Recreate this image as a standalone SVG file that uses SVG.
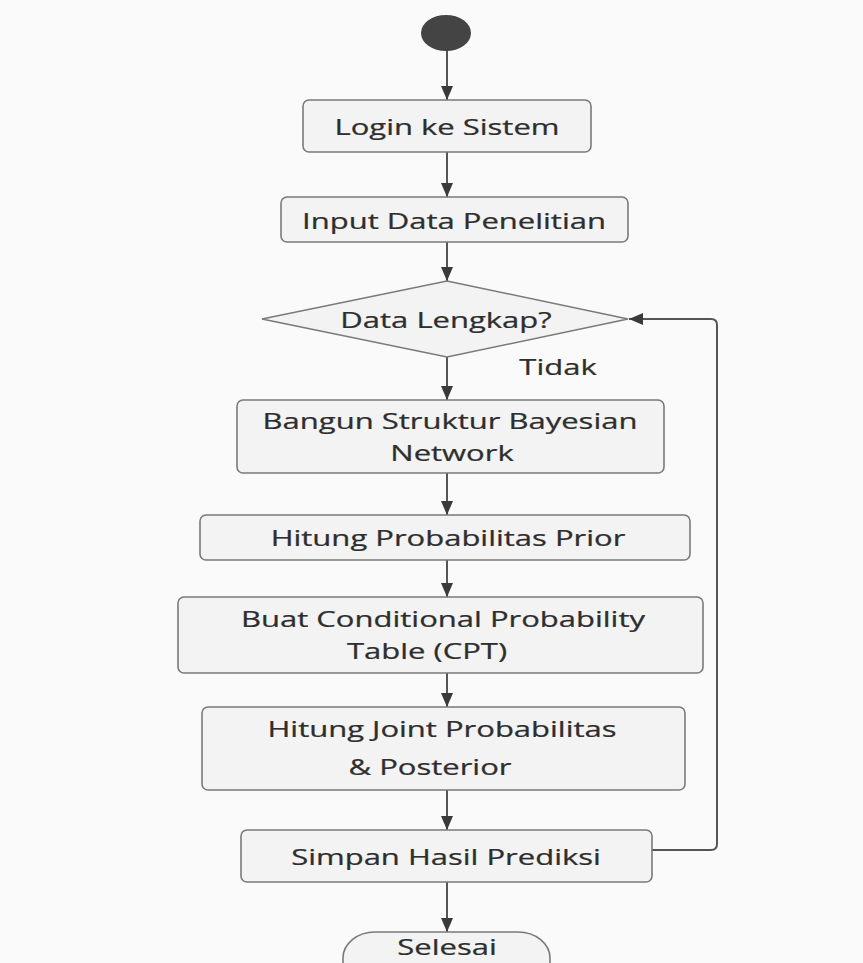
<svg xmlns="http://www.w3.org/2000/svg" width="863" height="963" viewBox="0 0 863 963">
  <defs>
    <style>
      .box { fill: #f3f3f3; stroke: #7a7a7a; stroke-width: 1.6; }
      .lbl { font-family: "Open Sans", "Liberation Sans", sans-serif; font-size: 31px; fill: #2e2e2e; stroke: #2e2e2e; stroke-width: 0.35; text-anchor: middle; }
      .edge { fill: none; stroke: #555555; stroke-width: 2; }
    </style>
    <marker id="arrow" viewBox="0 0 14 12" refX="14" refY="6" markerWidth="14" markerHeight="12" markerUnits="userSpaceOnUse" orient="auto">
      <path d="M0,0 L14,6 L0,12 Z" fill="#3a3a3a"/>
    </marker>
  </defs>

  <rect width="863" height="963" fill="#fbfafa"/>

  <!-- connectors -->
  <g id="connectors">
    <line class="edge" x1="447" y1="50" x2="447" y2="100" marker-end="url(#arrow)"/>
    <line class="edge" x1="447" y1="152" x2="447" y2="197" marker-end="url(#arrow)"/>
    <line class="edge" x1="447" y1="242" x2="447" y2="281" marker-end="url(#arrow)"/>
    <line class="edge" x1="447" y1="357" x2="447" y2="400" marker-end="url(#arrow)"/>
    <line class="edge" x1="447" y1="473" x2="447" y2="515" marker-end="url(#arrow)"/>
    <line class="edge" x1="447" y1="560" x2="447" y2="597" marker-end="url(#arrow)"/>
    <line class="edge" x1="447" y1="673" x2="447" y2="707" marker-end="url(#arrow)"/>
    <line class="edge" x1="447" y1="790" x2="447" y2="830" marker-end="url(#arrow)"/>
    <line class="edge" x1="447" y1="882" x2="447" y2="932" marker-end="url(#arrow)"/>
    <!-- loop back from save step to the decision -->
    <path class="edge" d="M652,850 H711 Q717,850 717,844 V325 Q717,319 711,319 H629" marker-end="url(#arrow)"/>
    <text class="lbl" transform="translate(558 375) scale(1 0.68)" font-size="35">Tidak</text>
  </g>

  <!-- start -->
  <g id="start">
    <ellipse cx="446" cy="33" rx="25" ry="18" fill="#444444"/>
  </g>

  <g id="login">
    <rect class="box" x="303" y="100" width="288" height="52" rx="6"/>
    <text class="lbl" transform="translate(447 135) scale(1 0.68)">Login ke Sistem</text>
  </g>

  <g id="input">
    <rect class="box" x="281" y="197" width="347" height="45" rx="6"/>
    <text class="lbl" transform="translate(454 229) scale(1 0.68)">Input Data Penelitian</text>
  </g>

  <g id="decision">
    <polygon class="box" points="447,281 628,319 447,357 262,319"/>
    <text class="lbl" transform="translate(446 328) scale(1 0.68)">Data Lengkap?</text>
  </g>

  <g id="bangun">
    <rect class="box" x="237" y="400" width="427" height="73" rx="6"/>
    <text class="lbl" transform="translate(450 429) scale(1 0.68)">Bangun Struktur Bayesian</text>
    <text class="lbl" transform="translate(452 461) scale(1 0.68)">Network</text>
  </g>

  <g id="prior">
    <rect class="box" x="200" y="515" width="490" height="45" rx="6"/>
    <text class="lbl" transform="translate(448 546) scale(1 0.68)">Hitung Probabilitas Prior</text>
  </g>

  <g id="cpt">
    <rect class="box" x="178" y="597" width="525" height="76" rx="6"/>
    <text class="lbl" transform="translate(443 627) scale(1 0.68)">Buat Conditional Probability</text>
    <text class="lbl" transform="translate(427 659) scale(1 0.68)">Table (CPT)</text>
  </g>

  <g id="joint">
    <rect class="box" x="202" y="707" width="483" height="83" rx="6"/>
    <text class="lbl" transform="translate(442 737) scale(1 0.68)">Hitung Joint Probabilitas</text>
    <text class="lbl" transform="translate(430 775) scale(1 0.68)">&amp; Posterior</text>
  </g>

  <g id="simpan">
    <rect class="box" x="241" y="830" width="411" height="52" rx="6"/>
    <text class="lbl" transform="translate(446 865) scale(1 0.68)">Simpan Hasil Prediksi</text>
  </g>

  <g id="selesai">
    <rect class="box" x="343" y="932" width="207" height="60" rx="32" ry="26"/>
    <text class="lbl" transform="translate(447 955) scale(1 0.68)">Selesai</text>
  </g>
</svg>
